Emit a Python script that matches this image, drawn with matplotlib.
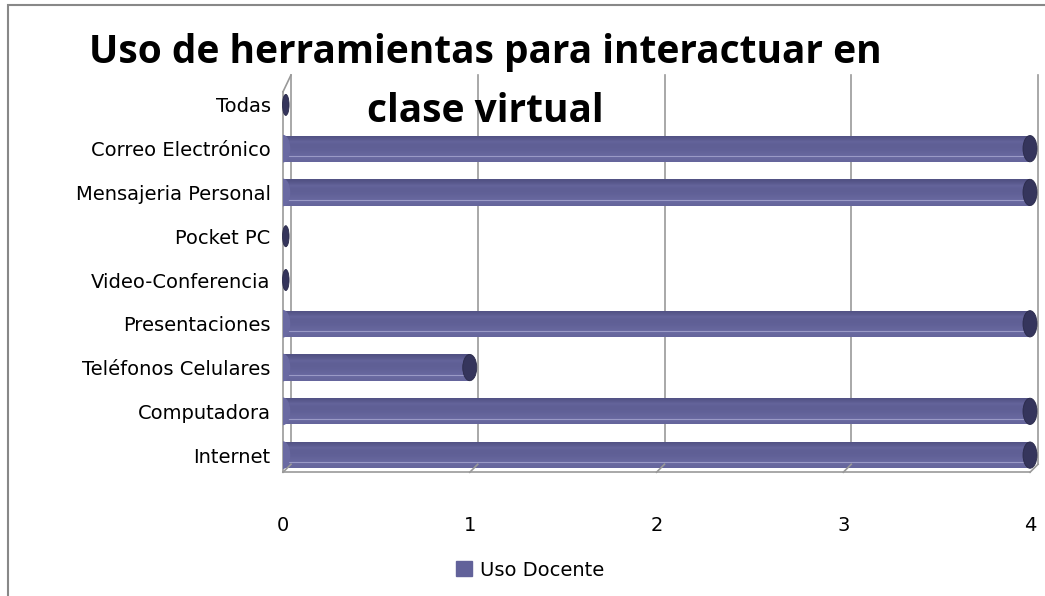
import numpy as np
import matplotlib.pyplot as plt
from matplotlib.patches import Ellipse, Rectangle
from matplotlib.lines import Line2D
from matplotlib.colors import LinearSegmentedColormap
import matplotlib.transforms as mtransforms

plt.rcParams['font.family'] = ['DejaVu Sans']

categorias = ['Internet', 'Computadora', 'Teléfonos Celulares', 'Presentaciones',
              'Video-Conferencia', 'Pocket PC', 'Mensajeria Personal',
              'Correo Electrónico', 'Todas']
uso_docente = [4, 4, 1, 4, 0, 0, 4, 4, 0]
x_ticks = [0, 1, 2, 3, 4]
titulo = ['Uso de herramientas para interactuar en', 'clase virtual']
serie = 'Uso Docente'

W, H = 1045, 596
fig = plt.figure(figsize=(W / 100, H / 100), dpi=100)

# outer chart border (only top and left edges visible)
fig.patches.append(Rectangle((8 / W, -0.2), 1.2, 1.2 - 5 / H, transform=fig.transFigure,
                             fill=False, edgecolor='#888888', lw=1.5))

ax = fig.add_axes([283 / W, 1 - 477 / H, (1030 - 283) / W, (477 - 83) / H])
ax.set_xlim(0, 4)
ax.set_ylim(-0.5, 8.5)
for s in ax.spines.values():
    s.set_visible(False)

# 3d walls: offset for the back wall
dx, dy = 8, 8
off = mtransforms.offset_copy(ax.transData, fig=fig, x=dx, y=dy, units='dots')
floor_y = ax.transAxes.transform((0, 0.012))[1]
floor_d = ax.transData.inverted().transform((0, floor_y))[1]
top_d = 8.5

wall = '#999999'
for v in x_ticks:
    ax.plot([v, v], [floor_d, top_d], color=wall, lw=1.2, transform=off, clip_on=False, zorder=1)
    p0 = ax.transData.transform((v, floor_d))
    p1 = p0 + np.array([dx, dy])
    fig.lines.append(Line2D([p0[0] / W, p1[0] / W], [p0[1] / H, p1[1] / H],
                            transform=fig.transFigure, color=wall, lw=1.2))
# front floor line and left wall front edge
ax.plot([0, 4], [floor_d, floor_d], color=wall, lw=1.2, clip_on=False, zorder=1)
ax.plot([0, 0], [floor_d, top_d - 0.2], color=wall, lw=1.2, clip_on=False, zorder=1)
pt = ax.transData.transform((0, top_d - 0.2))
pb = ax.transData.transform((0, top_d))
fig.lines.append(Line2D([pt[0] / W, (pt[0] + dx) / W],
                        [pt[1] / H, (pb[1] + dy) / H],
                        transform=fig.transFigure, color=wall, lw=1.2))

# bars with cylinder shading
h = 0.6
grad = np.array([[0.30], [0.42], [0.62], [0.50], [0.50], [0.55], [0.62], [0.70], [0.72], [0.66]])
cmap = LinearSegmentedColormap.from_list('cyl', ['#3f3f6c', '#5f5f95', '#7575ad'])
ypos = np.arange(len(categorias))
for y, v in zip(ypos, uso_docente):
    if v > 0:
        bar = ax.barh(y, v, height=h, color='#62629a', zorder=2)[0]
        im = ax.imshow(grad, cmap=cmap, vmin=0, vmax=1, aspect='auto',
                       extent=(0, v, y - h / 2, y + h / 2), zorder=3,
                       interpolation='bilinear')
        im.set_clip_path(bar)
        ax.plot([0, v], [y - h * 0.28, y - h * 0.28], color='#9a9ac6', lw=0.8, zorder=4)
        ax.add_patch(Ellipse((0.0, y), 0.07, h, color='#6a6aa2', zorder=4))
        ax.add_patch(Ellipse((v, y), 0.075, h, facecolor='#35355c', edgecolor='#2a2a4a',
                             lw=0.6, zorder=5, clip_on=False))
    else:
        # empty bar: only the dark end cap, just right of the axis
        ax.add_patch(Ellipse((v + 0.015, y), 0.035, h * 0.8, facecolor='#35355c',
                             edgecolor='#2a2a4a', lw=0.6, zorder=5, clip_on=False))

ax.set_xticks(x_ticks)
ax.set_xticklabels([str(t) for t in x_ticks], fontsize=14)
ax.set_yticks(ypos)
ax.set_yticklabels(categorias, fontsize=14)
ax.tick_params(axis='both', length=0)
ax.tick_params(axis='x', pad=28)
ax.tick_params(axis='y', pad=9)
ax.set_aspect('auto')

fig.text(485 / W, 1 - 52 / H, titulo[0], ha='center', va='center', fontsize=28,
         fontweight='bold', family='Open Sans')
fig.text(485 / W, 1 - 112 / H, titulo[1], ha='center', va='center', fontsize=28,
         fontweight='bold', family='Open Sans')

handle = Rectangle((0, 0), 1, 1, color='#62629a')
fig.legend([handle], [serie], loc='center', bbox_to_anchor=(530 / W, 1 - 570 / H),
           frameon=False, fontsize=14, handlelength=0.8, handleheight=0.8,
           handletextpad=0.4)

fig.savefig('out.png', dpi=100)
